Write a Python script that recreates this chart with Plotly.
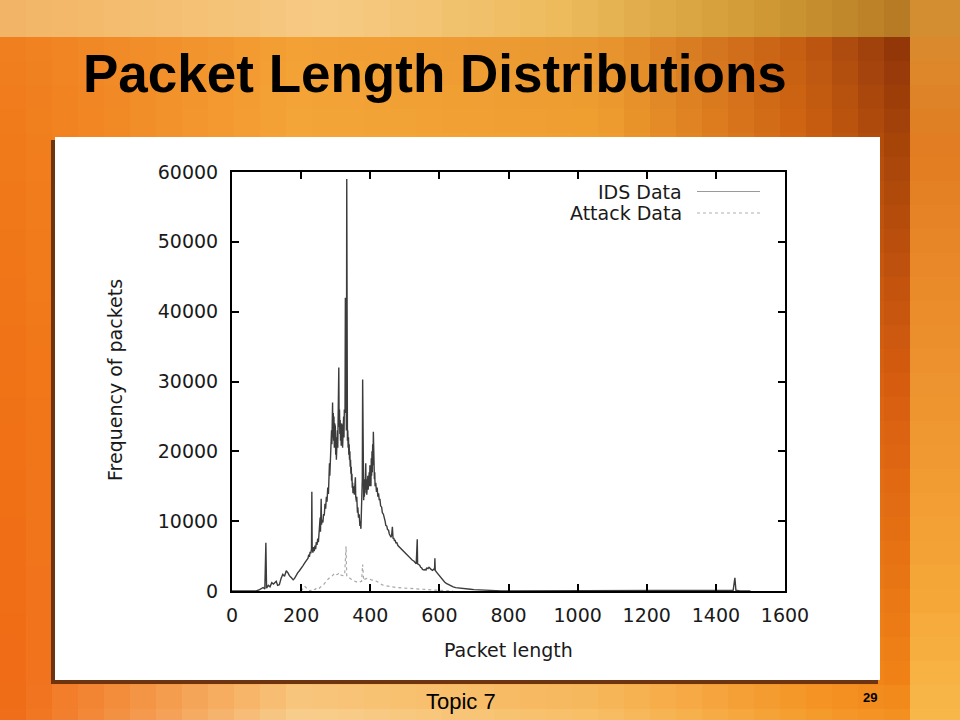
import plotly.graph_objects as go

# ---------------- data ----------------
ids_len = [0, 20, 40, 60, 70, 80, 90, 95, 98, 100,
           105, 110, 115, 120, 128, 132, 137, 142, 147, 152,
           157, 162, 166, 172, 177, 181, 186, 190, 195, 200,
           205, 210, 215, 220, 222, 224, 226, 228, 230, 231,
           232, 234, 236, 238, 240, 242, 244, 246, 248, 250,
           252, 254, 255, 256, 258, 259, 261, 263, 265, 267,
           269, 271, 273, 275, 277, 279, 281, 282, 283, 285,
           286, 288, 289, 291, 292, 293, 294, 295, 296, 297,
           298, 299, 300, 301, 302, 303, 304, 305, 306, 307,
           308, 309, 310, 311, 312, 313, 314, 315, 316, 317,
           318, 319, 320, 321, 322, 323, 324, 325, 326, 327,
           328, 329, 330, 331, 332, 333, 334, 335, 336, 337,
           338, 339, 340, 341, 342, 343, 344, 345, 346, 347,
           348, 349, 350, 352, 354, 355, 356, 357, 358, 360,
           361, 363, 364, 366, 368, 370, 371, 373, 374, 375,
           376, 377, 378, 379, 380, 381, 382, 383, 384, 385,
           386, 387, 388, 389, 390, 391, 392, 393, 394, 395,
           396, 397, 398, 399, 400, 401, 402, 403, 404, 405,
           406, 407, 408, 409, 410, 411, 412, 413, 414, 416,
           418, 420, 422, 424, 426, 428, 430, 433, 435, 438,
           440, 443, 445, 448, 450, 453, 455, 458, 460, 462,
           464, 466, 468, 470, 472, 474, 477, 480, 484, 487,
           490, 494, 498, 503, 508, 512, 515, 519, 522, 526,
           530, 533, 536, 537, 540, 543, 546, 549, 551, 554,
           556, 559, 561, 564, 567, 570, 573, 576, 580, 584,
           586, 587, 588, 590, 594, 597, 600, 605, 609, 615,
           620, 628, 635, 640, 647, 660, 676, 690, 700, 714,
           730, 753, 780, 800, 900, 1000, 1100, 1200, 1300, 1400,
           1450, 1455, 1458, 1470, 1500]
ids_freq = [0, 0, 50, 100, 0, 200, 500, 300, 6900, 400,
            800, 600, 1200, 1000, 1400, 800, 900, 1800, 2400, 2100,
            2900, 2600, 2200, 1900, 1600, 1800, 2300, 2600, 2900, 3200,
            3600, 4000, 4300, 4700, 5200, 4900, 5600, 5400, 6000, 14200,
            6200, 5500, 6300, 5700, 6500, 6000, 7000, 6600, 7500, 7000,
            8300, 9000, 10500, 8500, 13200, 9500, 10200, 9800, 11000, 10800,
            12500, 11800, 13500, 12800, 14800, 13900, 17000, 18300, 16500, 20000,
            18500, 23000, 21000, 27000, 22000, 25500, 21500, 25000, 20500, 24000,
            21000, 23500, 19500, 22000, 18800, 21500, 19000, 23000, 20500, 24500,
            22000, 32000, 23500, 26000, 22500, 24500, 21500, 23000, 20800, 24000,
            21000, 23500, 20500, 23000, 21500, 25000, 22000, 26000, 23000, 25500,
            42000, 24000, 26500, 23000, 59000, 24500, 21500, 23000, 20500, 22000,
            19500, 21000, 18800, 20000, 17800, 18800, 16800, 17800, 15800, 16800,
            14800, 15500, 14000, 15000, 13800, 15800, 14500, 16300, 13500, 12800,
            13500, 11200, 12000, 10500, 11000, 9300, 10000, 8900, 10500, 12000,
            11000, 16000, 30300, 13500, 15000, 13000, 16000, 13500, 15500, 14000,
            17000, 18300, 14500, 16000, 13800, 15500, 14200, 16500, 14500, 16800,
            14800, 17000, 15000, 18000, 15500, 17500, 15000, 19000, 16500, 20000,
            17000, 21000, 18000, 22800, 17500, 19000, 16000, 17000, 15000, 15500,
            14200, 14800, 13500, 14000, 13000, 13200, 12200, 12000, 11200, 11000,
            10300, 10000, 9400, 9300, 8800, 8700, 8200, 8000, 7700, 8000,
            9200, 7500, 7600, 7200, 7300, 6900, 6900, 6500, 6300, 6100,
            5900, 5800, 5600, 5400, 5100, 4900, 4700, 4600, 4400, 4300,
            4100, 3900, 7400, 3900, 3800, 3700, 3400, 3300, 3100, 3000,
            3000, 3100, 3000, 3300, 3200, 3400, 3200, 3100, 2950, 3150,
            3000, 4700, 3000, 2800, 2550, 2400, 2200, 1900, 1600, 1300,
            1100, 870, 700, 600, 480, 380, 290, 250, 200, 150,
            100, 50, 20, 0, 0, 0, 0, 0, 0, 0,
            100, 1900, 100, 0, 0]

atk_len = [200, 205, 210, 214, 220, 226, 234, 240, 246, 252, 258, 265, 272, 278, 284, 291, 296,
           300, 306, 310, 315, 320, 326, 330, 332, 336, 340, 345, 350, 355, 359, 365, 370, 375,
           378, 381, 385, 390, 397, 403, 410, 416, 422, 428, 435, 445, 455, 464, 475, 490, 503,
           520, 541, 560, 580, 600, 620, 640]
atk_freq = [0, 300, 700, 500, 200, 0, 300, 200, 500, 400, 650, 900, 1350, 1700, 2000, 2200, 2500,
            2300, 2400, 2600, 2300, 2200, 2300, 6400, 2100, 2000, 1800, 1700, 1500, 1400, 1250,
            1200, 1300, 1400, 3800, 1500, 1700, 1800, 1750, 1600, 1550, 1450, 1300, 1100, 870,
            750, 650, 580, 500, 450, 390, 340, 290, 220, 150, 100, 50, 0]

x_ticks = [0, 200, 400, 600, 800, 1000, 1200, 1400, 1600]
y_ticks = [0, 10000, 20000, 30000, 40000, 50000, 60000]

series_names = ["IDS Data", "Attack Data"]
title_text = "Packet Length Distributions"
x_title = "Packet length"
y_title = "Frequency of packets"
footer_text = "Topic 7"
page_number = "29"

# ---------------- helpers ----------------
W, H = 960, 720


def fx(x):
    return x / W


def fy(y):
    return 1 - y / H


def hex2rgb(h):
    h = h.lstrip('#')
    return [int(h[i:i + 2], 16) for i in (0, 2, 4)]


def lerp_col(c1, c2, t):
    return [c1[i] + (c2[i] - c1[i]) * t for i in range(3)]


def interp1(xs, cols, x):
    if x <= xs[0]:
        return hex2rgb(cols[0])
    for i in range(len(xs) - 1):
        if xs[i] <= x <= xs[i + 1]:
            t = (x - xs[i]) / (xs[i + 1] - xs[i])
            return lerp_col(hex2rgb(cols[i]), hex2rgb(cols[i + 1]), t)
    return hex2rgb(cols[-1])


# background anchor palettes (decoration)
top_xs = [0, 150, 330, 560, 760, 910]
top_cols = ['#F2B466', '#F4BE70', '#F6CA84', '#EDBB5C', '#D09A35', '#B67824']
right_ys = [0, 37, 150, 300, 450, 600, 720]
right_cols = ['#CC9236', '#DA8A2E', '#E27C22', '#EA8C2A', '#F09832', '#F5A838', '#F8B84A']
main_xs = [0, 300, 600, 800, 910]
main_ys = [37, 140, 400, 680, 720]
main_rows = [
    ['#F07E20', '#F3A035', '#E89530', '#C45C12', '#8A3008'],
    ['#F07818', '#F4A638', '#F0A030', '#D06412', '#A04008'],
    ['#F07015', '#F5A030', '#F5A030', '#E07015', '#D85C10'],
    ['#F06812', '#F8BE6C', '#F5B050', '#F59022', '#F08015'],
    ['#F06A14', '#F8D092', '#F8C068', '#F5A030', '#F59020'],
]


def bg_color(x, y):
    if x >= 910:
        c = interp1(right_ys, right_cols, y)
    elif y < 37:
        c = interp1(top_xs, top_cols, x)
    else:
        row_cols = [interp1(main_xs, r, x) for r in main_rows]
        if y <= main_ys[0]:
            c = row_cols[0]
        else:
            c = row_cols[-1]
            for i in range(len(main_ys) - 1):
                if main_ys[i] <= y <= main_ys[i + 1]:
                    t = (y - main_ys[i]) / (main_ys[i + 1] - main_ys[i])
                    c = lerp_col(row_cols[i], row_cols[i + 1], t)
                    break
    return 'rgb(%d,%d,%d)' % tuple(int(round(v)) for v in c)


shapes = []
# pixel-block background
xedges = sorted(set(list(range(0, 910, 26)) + [910, 935, 960]))
yedges = sorted(set([0, 37] + list(range(37 + 24, 720, 24)) + [720]))
for j in range(len(yedges) - 1):
    y0, y1 = yedges[j], yedges[j + 1]
    for i in range(len(xedges) - 1):
        x0, x1 = xedges[i], xedges[i + 1]
        if x0 >= 60 and x1 <= 875 and y0 >= 142 and y1 <= 675:
            continue
        col = bg_color((x0 + x1) / 2, (y0 + y1) / 2)
        shapes.append(dict(type='rect', xref='paper', yref='paper', layer='below',
                           x0=fx(x0), x1=fx(min(x1 + 0.6, W)), y0=fy(min(y1 + 0.6, H)), y1=fy(y0),
                           line=dict(width=0), fillcolor=col))

# panel shadow + white panel
shapes.append(dict(type='rect', xref='paper', yref='paper', layer='below',
                   x0=fx(51), x1=fx(878), y0=fy(684), y1=fy(140),
                   line=dict(width=0), fillcolor='#6E3410'))
shapes.append(dict(type='rect', xref='paper', yref='paper', layer='below',
                   x0=fx(55), x1=fx(880), y0=fy(680), y1=fy(137),
                   line=dict(width=0), fillcolor='white'))

# legend samples (gnuplot style: text, then line sample)
shapes.append(dict(type='line', xref='paper', yref='paper',
                   x0=fx(697), x1=fx(760), y0=fy(191.5), y1=fy(191.5),
                   line=dict(color='#9a9a9a', width=1.2)))
shapes.append(dict(type='line', xref='paper', yref='paper',
                   x0=fx(697), x1=fx(760), y0=fy(213), y1=fy(213),
                   line=dict(color='#b0b0b0', width=1.2, dash='dot')))

# ---------------- figure ----------------
fig = go.Figure()
fig.add_trace(go.Scatter(x=atk_len, y=atk_freq, mode='lines', name=series_names[1],
                         line=dict(color='#a8a8a8', width=1.2, dash='dot')))
fig.add_trace(go.Scatter(x=ids_len, y=ids_freq, mode='lines', name=series_names[0],
                         line=dict(color='#3c3c3c', width=1.4)))

tick_font = dict(family='DejaVu Sans', size=19, color='#1a1a1a')
axis_common = dict(showline=True, linecolor='black', linewidth=2, mirror='allticks',
                   ticks='inside', ticklen=7, tickwidth=2, tickcolor='black',
                   showgrid=False, zeroline=False, tickfont=tick_font, automargin=False)

fig.update_layout(
    width=W, height=H,
    margin=dict(l=0, r=0, t=0, b=0, pad=0, autoexpand=False),
    paper_bgcolor='#F0A030',
    plot_bgcolor='rgba(0,0,0,0)',
    showlegend=False,
    shapes=shapes,
    xaxis=dict(domain=[fx(232), fx(785)], range=[0, 1600], tickvals=x_ticks,
               ticktext=[str(v) for v in x_ticks], ticklabelstandoff=6, **axis_common),
    yaxis=dict(domain=[fy(591), fy(172)], range=[0, 60000], tickvals=y_ticks,
               ticktext=[str(v) for v in y_ticks], ticklabelstandoff=8, **axis_common),
    annotations=[
        dict(text='<b>' + title_text + '</b>', xref='paper', yref='paper',
             x=fx(81), y=fy(74), xanchor='left', yanchor='middle', showarrow=False,
             font=dict(family='Liberation Sans', size=53, color='black')),
        dict(text=x_title, xref='paper', yref='paper', x=fx(508), y=fy(650),
             xanchor='center', yanchor='middle', showarrow=False,
             font=dict(family='DejaVu Sans', size=19, color='#1a1a1a')),
        dict(text=y_title, xref='paper', yref='paper', x=fx(115), y=fy(380),
             xanchor='center', yanchor='middle', showarrow=False, textangle=-90,
             font=dict(family='DejaVu Sans', size=19, color='#1a1a1a')),
        dict(text=series_names[0], xref='paper', yref='paper', x=fx(684), y=fy(191.5),
             xanchor='right', yanchor='middle', showarrow=False,
             font=dict(family='DejaVu Sans', size=19, color='#1a1a1a')),
        dict(text=series_names[1], xref='paper', yref='paper', x=fx(684), y=fy(213),
             xanchor='right', yanchor='middle', showarrow=False,
             font=dict(family='DejaVu Sans', size=19, color='#1a1a1a')),
        dict(text=footer_text, xref='paper', yref='paper', x=fx(461), y=fy(701),
             xanchor='center', yanchor='middle', showarrow=False,
             font=dict(family='Liberation Sans', size=22, color='black')),
        dict(text='<b>' + page_number + '</b>', xref='paper', yref='paper', x=fx(870), y=fy(697),
             xanchor='center', yanchor='middle', showarrow=False,
             font=dict(family='Liberation Sans', size=13, color='black')),
    ],
)

fig.write_html("out.html",
               config={'displayModeBar': False},
               post_script="document.body.style.margin='0';"
                           "document.body.style.padding='0';"
                           "document.body.style.overflow='hidden';")
